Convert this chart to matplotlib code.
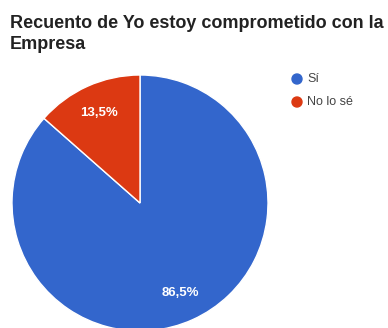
import matplotlib
matplotlib.use('AGG')
import matplotlib.pyplot as plt
import numpy as np

# Datos
categorias = ["Sí", "No lo sé"]
valores = [86.5, 13.5]
etiquetas = ["86,5%", "13,5%"]
colores = ["#3366CC", "#DC3912"]
titulo = "Recuento de Yo estoy comprometido con la\nEmpresa"

W, H = 388, 328
fig = plt.figure(figsize=(W / 100, H / 100), dpi=100)
plt.rcParams['font.family'] = ['Liberation Sans', 'DejaVu Sans']

# pie: centro (140, 203) px, radio 128 px
cx, cy, r = 140, 203, 128
ax = fig.add_axes([(cx - r) / W, (H - cy - r) / H, 2 * r / W, 2 * r / H])
wedges, _ = ax.pie(valores, colors=colores, startangle=90, counterclock=False,
                   radius=1, wedgeprops=dict(edgecolor='white', linewidth=1))
ax.set_xlim(-1, 1)
ax.set_ylim(-1, 1)
ax.set_aspect('equal')
ax.axis('off')

for w, lab in zip(wedges, etiquetas):
    ang = np.deg2rad((w.theta1 + w.theta2) / 2)
    ax.text(0.77 * np.cos(ang), 0.77 * np.sin(ang), lab, color='white',
            fontsize=9.5, fontweight='bold', ha='center', va='center')

fig.text(10 / W, 1 - 15 / H, titulo, fontsize=13, fontweight='bold',
         color='#222222', ha='left', va='top', linespacing=1.32)

# leyenda
for i, (cat, col) in enumerate(zip(categorias, colores)):
    y = 1 - (79 + 23 * i) / H
    fig.patches.append(matplotlib.patches.Ellipse((297 / W, y), 10 / W, 10 / H,
                                                  transform=fig.transFigure,
                                                  color=col))
    fig.text(307 / W, y, cat, fontsize=9, color='#444444', va='center')

fig.savefig("out.png", dpi=100, facecolor='white')
